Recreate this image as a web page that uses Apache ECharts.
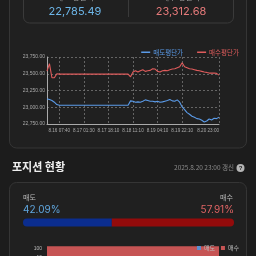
<!DOCTYPE html>
<html><head><meta charset="utf-8">
<script src="https://cdn.jsdelivr.net/npm/echarts@6/dist/echarts.min.js"></script>
<style>html,body{margin:0;padding:0;background:#1c1c1c;overflow:hidden}#c{width:256px;height:256px}</style>
</head><body><div id="c"></div>
<script>
// ---- data ----
const times = [
 '8.15 23:20','8.16 01:00','8.16 02:40','8.16 04:20','8.16 06:00','8.16 07:40','8.16 09:30','8.16 11:20','8.16 13:10','8.16 15:00',
 '8.16 16:50','8.16 18:40','8.16 20:30','8.16 22:20','8.17 00:00','8.17 01:30','8.17 03:10','8.17 04:50','8.17 06:30','8.17 08:10',
 '8.17 09:50','8.17 11:30','8.17 13:10','8.17 14:50','8.17 16:30','8.17 18:10','8.17 19:50','8.17 21:30','8.17 23:10','8.18 00:50',
 '8.18 02:30','8.18 04:10','8.18 05:50','8.18 07:50','8.18 09:30','8.18 11:10','8.18 12:50','8.18 14:30','8.18 16:10','8.18 17:50',
 '8.18 19:30','8.18 21:10','8.18 22:50','8.19 00:40','8.19 02:30','8.19 04:10','8.19 06:00','8.19 07:50','8.19 09:40','8.19 11:30',
 '8.19 13:20','8.19 15:10','8.19 17:00','8.19 18:50','8.19 20:30','8.19 22:10','8.19 23:50','8.20 01:30','8.20 03:10','8.20 04:50',
 '8.20 06:30','8.20 08:10','8.20 09:50','8.20 11:30','8.20 13:10','8.20 14:50','8.20 16:30','8.20 18:10','8.20 19:50','8.20 21:30',
 '8.20 23:00'];
const labeledTimes = ['8.16 07:40','8.17 01:30','8.17 18:10','8.18 11:10','8.19 04:10','8.19 22:10','8.20 23:00'];
const sellAvg = [
 23125,23115,23100,23075,23040,23030,23030,23030,23030,23030,
 23030,23030,23030,23030,23030,23030,23030,23030,23030,23030,
 23030,23030,23030,23030,23030,23030,23030,23030,23030,23030,
 23030,23030,23030,23030,23095,23090,23075,23080,23075,23090,
 23110,23100,23090,23090,23080,23090,23075,23080,23090,23100,
 23115,23095,23090,23110,23075,23005,22965,22920,22895,22865,
 22850,22830,22825,22805,22780,22795,22825,22810,22835,22830,
 22850];
const buyAvg = [
 23540,23650,23440,23440,23500,23495,23495,23495,23495,23495,
 23495,23495,23495,23495,23495,23495,23495,23495,23495,23495,
 23495,23495,23495,23495,23495,23495,23495,23495,23495,23495,
 23495,23495,23495,23495,23455,23525,23545,23525,23545,23560,
 23535,23545,23550,23575,23570,23535,23525,23545,23550,23545,
 23560,23570,23575,23590,23605,23665,23605,23590,23575,23570,
 23560,23550,23545,23535,23525,23520,23510,23510,23510,23505,
 23480];
const yMin = 22750, yMax = 23750, yStep = 250;
const sellLast = '22,785.49', buyLast = '23,312.68';
const sellPct = 42.09, buyPct = 57.91;
const updated = '2025.8.20 23:00 갱신';
const levelCats = ['100','50','25','10'];
const levelSell = [0, 0, 0, 0];
const levelBuy  = [100, 100, 100, 100];

// ---- chart ----
const BLUE = '#5b9be8', RED = '#e05c5c';
const chart = echarts.init(document.getElementById('c'), null, {renderer:'canvas'});
const fmt = v => Number(v).toLocaleString('en-US',{minimumFractionDigits:2, maximumFractionDigits:2});
const showIdx = i => labeledTimes.includes(times[i]);
const card = (x,y,w,h,r) => ({type:'rect', shape:{x,y,width:w,height:h,r}, style:{fill:'#202020', stroke:'#353535', lineWidth:1}, z:-10});
chart.setOption({
  backgroundColor:'#1c1c1c',
  animation:false,
  graphic:[
    card(9.5,-12,237,160,7),
    {type:'rect', shape:{x:23.5,y:-12,width:210,height:35,r:6}, style:{fill:'#202020', stroke:'#3a3a3a', lineWidth:1}, z:-9},
    {type:'line', shape:{x1:128.5,y1:-2,x2:128.5,y2:17}, style:{stroke:'#3a3a3a', lineWidth:1}},
    {type:'text', x:75, y:-3, style:{text:'매도 평단가', fill:'#999', fontSize:8, align:'center', verticalAlign:'middle', fontFamily:'Noto Sans CJK KR'}},
    {type:'text', x:181, y:-3, style:{text:'매수 평단가', fill:'#999', fontSize:8, align:'center', verticalAlign:'middle', fontFamily:'Noto Sans CJK KR'}},
    {type:'text', x:75, y:12, style:{text:sellLast, fill:'#6db6e8', fontSize:11, align:'center', verticalAlign:'middle', fontFamily:'Inter'}},
    {type:'text', x:181, y:12, style:{text:buyLast, fill:'#e57a7a', fontSize:11, align:'center', verticalAlign:'middle', fontFamily:'Inter'}},
    {type:'text', x:12, y:167, style:{text:'포지션 현황', fill:'#eee', fontSize:11, fontWeight:'bold', verticalAlign:'middle', fontFamily:'Noto Sans CJK KR'}},
    {type:'text', x:234, y:168, style:{text:updated, fill:'#8a8a8a', fontSize:6.5, align:'right', verticalAlign:'middle', fontFamily:'Noto Sans CJK KR'}},
    {type:'circle', shape:{cx:240.5, cy:168, r:4}, style:{fill:'#b5b5b5'}},
    {type:'text', x:240.5, y:168.3, style:{text:'?', fill:'#222', fontSize:6, fontWeight:'bold', align:'center', verticalAlign:'middle'}},
    card(9.5,182.5,237,120,7),
    {type:'text', x:23, y:197, style:{text:'매도', fill:'#bbb', fontSize:7, verticalAlign:'middle', fontFamily:'Noto Sans CJK KR'}},
    {type:'text', x:233, y:197, style:{text:'매수', fill:'#bbb', fontSize:7, align:'right', verticalAlign:'middle', fontFamily:'Noto Sans CJK KR'}},
    {type:'text', x:23, y:209.5, style:{text:sellPct.toFixed(2)+'%', fill:'#5fa6de', fontSize:10, verticalAlign:'middle', fontFamily:'Inter'}},
    {type:'text', x:234, y:209.5, style:{text:buyPct.toFixed(2)+'%', fill:'#e06464', fontSize:10, align:'right', verticalAlign:'middle', fontFamily:'Inter'}}
  ],
  legend:[
    {data:[{name:'매도평단가', textStyle:{color:BLUE}},{name:'매수평단가', textStyle:{color:RED}}],
     right:12, top:44, itemWidth:9, itemHeight:1.5, itemGap:14, icon:'rect',
     textStyle:{fontSize:6.5, fontFamily:'Noto Sans CJK KR', padding:[0,0,0,-2]}},
    {data:['매도','매수'], right:12, top:240, itemWidth:4, itemHeight:4, itemGap:6, icon:'rect',
     textStyle:{fontSize:6, color:'#bbb', fontFamily:'Noto Sans CJK KR', padding:[0,0,0,-2]}}
  ],
  grid:[
    {left:47, top:57, width:172, height:67},
    {left:23, top:218, width:211, height:9},
    {left:47, top:246.5, width:172, height:52}
  ],
  xAxis:[
    {type:'category', gridIndex:0, data:times, boundaryGap:false,
     axisLine:{lineStyle:{color:'#aaa', width:1}}, axisTick:{show:false},
     axisLabel:{color:'#aaa', fontSize:4.6, interval:showIdx, margin:4, fontFamily:'Liberation Sans', showMaxLabel:true, alignMaxLabel:'right'},
     splitLine:{show:true, interval:showIdx, lineStyle:{color:'#777', type:[2,2], width:0.8}}},
    {type:'value', gridIndex:1, min:0, max:100, show:false},
    {type:'value', gridIndex:2, min:0, max:100, show:false}
  ],
  yAxis:[
    {type:'value', gridIndex:0, min:yMin, max:yMax, interval:yStep,
     axisLine:{show:true, lineStyle:{color:'#aaa', width:1}}, axisTick:{show:false},
     axisLabel:{color:'#aaa', fontSize:5, margin:2, formatter:fmt, fontFamily:'Liberation Sans'},
     splitLine:{show:true, lineStyle:{color:'#777', type:[2,2], width:0.8}}},
    {type:'category', gridIndex:1, data:['pos'], show:false},
    {type:'category', gridIndex:2, data:levelCats, inverse:true,
     axisLine:{show:false}, axisTick:{show:false},
     axisLabel:{color:'#bbb', fontSize:5, margin:5, fontFamily:'Liberation Sans'}}
  ],
  series:[
    {name:'매도평단가', type:'line', xAxisIndex:0, yAxisIndex:0, data:sellAvg, showSymbol:false, lineStyle:{color:BLUE, width:1.1}, itemStyle:{color:BLUE}},
    {name:'매수평단가', type:'line', xAxisIndex:0, yAxisIndex:0, data:buyAvg, showSymbol:false, lineStyle:{color:RED, width:1.1}, itemStyle:{color:RED}},
    {name:'매도비율', type:'bar', xAxisIndex:1, yAxisIndex:1, stack:'p', data:[sellPct], barWidth:8, itemStyle:{color:'#0b2d8e', borderRadius:[4,0,0,4]}},
    {name:'매수비율', type:'bar', xAxisIndex:1, yAxisIndex:1, stack:'p', data:[buyPct], barWidth:8, itemStyle:{color:'#930b0b', borderRadius:[0,4,4,0]}},
    {name:'매도', type:'bar', xAxisIndex:2, yAxisIndex:2, stack:'r', data:levelSell, barWidth:12, itemStyle:{color:'#5b8fd0'}},
    {name:'매수', type:'bar', xAxisIndex:2, yAxisIndex:2, stack:'r', data:levelBuy, barWidth:12, itemStyle:{color:'#c65454'}}
  ]
});
</script></body></html>
